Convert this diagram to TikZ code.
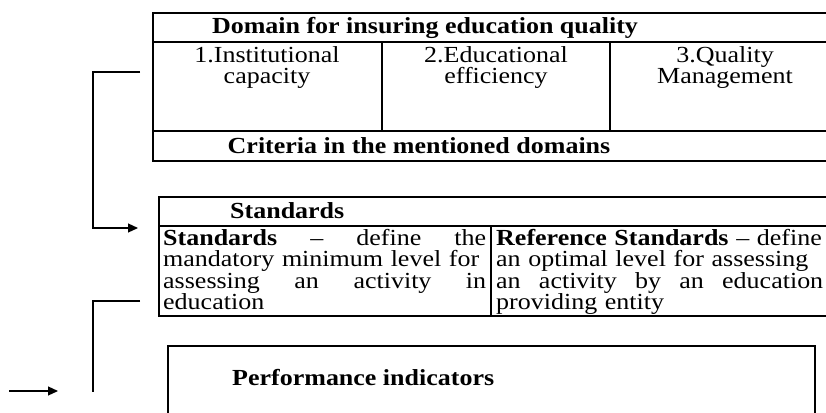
\documentclass[tikz,border=0pt]{standalone}
\usepackage{fontspec}
\setmainfont{Liberation Serif}[FakeStretch=1.13]
\usetikzlibrary{arrows.meta}
\begin{document}
\begin{tikzpicture}[x=1pt,y=-1pt,
  frame/.style={draw, line width=1.6pt, rectangle, inner sep=0pt, anchor=north west},
  rule/.style={line width=1.6pt},
  thin/.style={line width=1.1pt},
  conn/.style={line width=1.2pt},
  arr/.style={conn, -{Triangle[length=10pt,width=9pt]}},
  txt/.style={font=\fontsize{23}{21.5}\selectfont, inner sep=0pt},
  txtb/.style={font=\fontsize{23}{21.5}\selectfont\bfseries, inner sep=0pt}]
\useasboundingbox (0,0) rectangle (826,412);
\clip (0,0) rectangle (826,412);
% box 1
\node[frame, minimum width=700pt, minimum height=148pt] (b1) at (152,12) {};
\draw[rule] (152,42) -- (852,42);
\draw[rule] (152,131) -- (852,131);
\draw[thin] (382,42) -- (382,131);
\draw[thin] (610,42) -- (610,131);
\node[txtb] (h1) at (425,28) {Domain for insuring education quality};
\node[txt, align=center, anchor=north] (c11) at (267,46) {1.Institutional\\capacity};
\node[txt, align=center, anchor=north] (c12) at (496,46) {2.Educational\\efficiency};
\node[txt, align=center, anchor=north] (c13) at (725,46) {3.Quality\\Management};
\node[txtb] (f1) at (419,146) {Criteria in the mentioned domains};
% box 2
\node[frame, minimum width=700pt, minimum height=119pt] (b2) at (158,196) {};
\draw[rule] (158,226) -- (858,226);
\draw[thin] (491,226) -- (491,315);
\node[txtb, anchor=west] (h2) at (230,211) {Standards};
\node[txt, anchor=north west, text width=323pt] (s1) at (163,229) {%
\hbox to \linewidth{\textbf{Standards}\hfill–\hfill define\hfill the}
\hbox to \linewidth{mandatory minimum level for}
\hbox to \linewidth{assessing\hfill an\hfill activity\hfill in}
\hbox to \linewidth{education\hfill}};
\node[txt, anchor=north west, text width=327pt] (s2) at (496,229) {%
\hbox to \linewidth{\textbf{Reference Standards} – define}
\hbox to \linewidth{an optimal level for assessing}
\hbox to \linewidth{an\hfill activity\hfill by\hfill an\hfill education}
\hbox to \linewidth{providing entity\hfill}};
% box 3
\node[frame, minimum width=647pt, minimum height=90pt] (b3) at (167,345) {};
\node[txtb, anchor=west] (h3) at (232,378) {Performance indicators};
% connectors
\coordinate (a1) at (140,72);
\coordinate (a2) at (93,72);
\coordinate (a3) at (93,228);
\coordinate (a4) at (138,228);
\draw[arr] (a1) -- (a2) -- (a3) -- (a4);
\coordinate (d1) at (140,301);
\coordinate (d2) at (93,301);
\coordinate (d3) at (93,392);
\draw[conn] (d1) -- (d2) -- (d3);
\coordinate (e1) at (9,391);
\coordinate (e2) at (58,391);
\draw[arr] (e1) -- (e2);
\end{tikzpicture}
\end{document}
